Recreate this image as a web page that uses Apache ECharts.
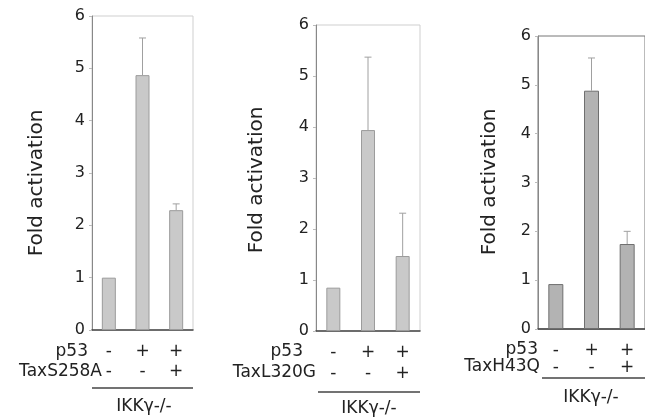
<!DOCTYPE html>
<html>
<head>
<meta charset="utf-8">
<script src="https://cdn.jsdelivr.net/npm/echarts@6/dist/echarts.min.js"></script>
<style>
  html, body { margin: 0; padding: 0; background: #fff; }
  #chart { width: 645px; height: 417px; }
</style>
</head>
<body>
<div id="chart"></div>
<script>
// data
const p53Row = ['-', '+', '+'];
const taxRow = ['-', '-', '+'];
const taxNames = ['TaxS258A', 'TaxL320G', 'TaxH43Q'];
const yTicks = [0, 1, 2, 3, 4, 5, 6];

const valuesS258A = [1.0, 4.87, 2.29];
const errS258A = [0, 0.71, 0.12];
const valuesL320G = [0.85, 3.94, 1.47];
const errL320G = [0, 1.43, 0.84];
const valuesH43Q = [0.92, 4.88, 1.74];
const errH43Q = [0, 0.67, 0.26];

const categories = p53Row.map((p, i) => p + '\n' + taxRow[i]);
const FONT = 'DejaVu Sans';

// panel layout (pixels)
const panels = [
  { left: 92, top: 16, width: 101, height: 314, barW: 14, lh: 20, margin: 12,
    fill: '#c9c9c9', edge: '#9c9c9c', frame: '#cfcfcf',
    values: valuesS258A, err: errS258A },
  { left: 316, top: 25, width: 104, height: 306, barW: 14, lh: 21, margin: 11,
    fill: '#c9c9c9', edge: '#9c9c9c', frame: '#cfcfcf',
    values: valuesL320G, err: errL320G },
  { left: 538, top: 36, width: 112, height: 293, barW: 15, lh: 17, margin: 13,
    fill: '#b3b3b3', edge: '#6f6f6f', frame: '#777777',
    values: valuesH43Q, err: errH43Q },
];

function errorItem(params, api) {
  const x = api.value(0);
  const v = api.value(1);
  const e = api.value(2);
  if (!e) return;
  const base = api.coord([x, v]);
  const top = api.coord([x, v + e]);
  return {
    type: 'group',
    children: [
      { type: 'line', shape: { x1: base[0], y1: base[1], x2: top[0], y2: top[1] },
        style: { stroke: '#a0a0a0', lineWidth: 1 } },
      { type: 'line', shape: { x1: top[0] - 3.5, y1: top[1], x2: top[0] + 3.5, y2: top[1] },
        style: { stroke: '#a0a0a0', lineWidth: 1 } },
    ],
  };
}

const option = {
  animation: false,
  grid: panels.map(p => ({
    left: p.left, top: p.top, width: p.width, height: p.height,
    show: true, borderColor: p.frame, borderWidth: 1, backgroundColor: 'transparent',
  })),
  xAxis: panels.map((p, i) => ({
    type: 'category',
    gridIndex: i,
    data: categories,
    axisLine: { lineStyle: { color: '#444', width: 1.5 } },
    axisTick: { show: false },
    axisLabel: {
      margin: p.margin, fontFamily: FONT, fontSize: 17, lineHeight: p.lh, color: '#222',
    },
  })),
  yAxis: panels.map((p, i) => ({
    type: 'value',
    gridIndex: i,
    min: yTicks[0],
    max: yTicks[yTicks.length - 1],
    interval: 1,
    splitLine: { show: false },
    axisLine: { show: true, lineStyle: { color: '#888', width: 1 } },
    axisTick: { show: true, length: 3, lineStyle: { color: '#bbb' } },
    axisLabel: { margin: 7, fontFamily: FONT, fontSize: 16, color: '#222' },
  })),
  series: [
    ...panels.map((p, i) => ({
      type: 'bar',
      xAxisIndex: i,
      yAxisIndex: i,
      barWidth: p.barW,
      data: p.values,
      itemStyle: { color: p.fill, borderColor: p.edge, borderWidth: 1 },
    })),
    ...panels.map((p, i) => ({
      type: 'custom',
      xAxisIndex: i,
      yAxisIndex: i,
      renderItem: errorItem,
      data: p.values.map((v, k) => [k, v, p.err[k]]),
      z: 3,
    })),
  ],
  graphic: [],
};

// y axis titles and row labels
const txt = (x, y, text, align, extra) => Object.assign({
  type: 'text', x: x, y: y,
  style: { text: text, fontFamily: FONT, fontSize: 17, fill: '#222',
           align: align, verticalAlign: 'middle' },
}, extra || {});

const titleX = [37, 257, 490];
const titleY = [183, 180, 182];
titleX.forEach((x, i) => {
  option.graphic.push({
    type: 'text', x: x, y: titleY[i], rotation: Math.PI / 2,
    style: { text: 'Fold activation', fontFamily: FONT, fontSize: 20, fill: '#222',
             align: 'center', verticalAlign: 'middle' },
  });
});

const rowLabels = [
  { p53x: 88, p53y: 352, taxx: 102, taxy: 372, lineY: 388, lx1: 92, lx2: 193, ikkX: 144, ikkY: 407 },
  { p53x: 303, p53y: 352, taxx: 316, taxy: 373, lineY: 392, lx1: 318, lx2: 420, ikkX: 369, ikkY: 409 },
  { p53x: 538, p53y: 350, taxx: 540, taxy: 367, lineY: 378, lx1: 542, lx2: 645, ikkX: 591, ikkY: 398 },
];
rowLabels.forEach((r, i) => {
  option.graphic.push(txt(r.p53x, r.p53y, 'p53', 'right'));
  option.graphic.push(txt(r.taxx, r.taxy, taxNames[i], 'right'));
  option.graphic.push({
    type: 'line', shape: { x1: r.lx1, y1: r.lineY, x2: r.lx2, y2: r.lineY },
    style: { stroke: '#444', lineWidth: 1.5 },
  });
  option.graphic.push(txt(r.ikkX, r.ikkY, 'IKKγ-/-', 'center'));
});

const chart = echarts.init(document.getElementById('chart'));
chart.setOption(option);
</script>
</body>
</html>
